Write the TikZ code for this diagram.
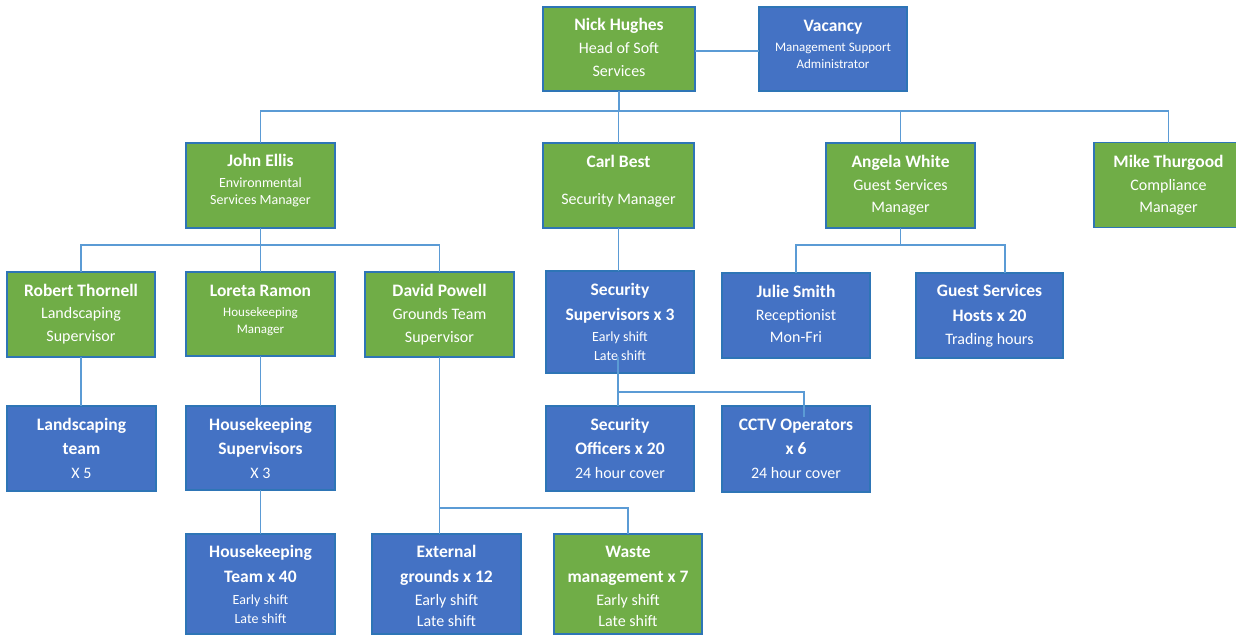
\documentclass[tikz,border=0pt]{standalone}
\usepackage{fontspec}
\setmainfont{Carlito}
\definecolor{gfill}{HTML}{70AD47}
\definecolor{bfill}{HTML}{4472C4}
\definecolor{bord}{HTML}{2E75B6}
\definecolor{lc}{HTML}{5B9BD5}
\newcommand\nmf{\fontsize{17.5}{20}\selectfont\bfseries}
\newcommand\rlf{\fontsize{16}{20}\selectfont}
\newcommand\rsf{\fontsize{14}{20}\selectfont}
\newcommand\smf{\fontsize{13}{20}\selectfont}
\tikzset{
  box/.style={draw=bord, line width=1.2pt, text=white, align=center, inner sep=0pt, outer sep=0pt,
    minimum width=149pt, minimum height=85pt, font=\fontsize{16}{20}\selectfont},
  gbox/.style={box, fill=gfill},
  bbox/.style={box, fill=bfill},
  conn/.style={draw=lc, line width=1.4pt}
}
\begin{document}
\begin{tikzpicture}[x=1pt,y=-1pt]
\useasboundingbox (0,0) rectangle (1236,635);
\fill[white] (0,0) rectangle (1236,635);
% bus coordinates
\coordinate (b1) at (0,111);
\coordinate (b2) at (0,245);
\coordinate (b3) at (0,392);
\coordinate (b4) at (0,508);
\coordinate (hv) at (0,51);
\coordinate (hd) at (1005,0);
\coordinate (ss) at (618,357);
\coordinate (cc) at (804,417);
% level 1
\node[gbox, minimum width=152pt, minimum height=84pt] (nick) at (619,49) {{\nmf Nick Hughes}\\[3pt]{\rlf Head of Soft}\\[3pt]{\rlf Services}\\[-16pt]{}};
\node[bbox, minimum width=148pt, minimum height=84pt] (vac) at (833,49) {{\nmf Vacancy}\\[0pt]{\smf Management Support}\\[-3pt]{\smf Administrator}\\[-10pt]{}};
% level 2
\node[gbox] (john) at (260.5,185.5) {{\nmf John Ellis}\\[1pt]{\rsf Environmental}\\[-3pt]{\rsf Services Manager}\\[-8pt]{}};
\node[gbox, minimum width=151pt] (carl) at (618.5,185.5) {{\nmf Carl Best}\\[17pt]{\rlf Security Manager}\\[-9pt]{}};
\node[gbox] (angela) at (900.5,185.5) {{\nmf Angela White}\\[3pt]{\rlf Guest Services}\\[2pt]{\rlf Manager}};
\node[gbox] (mike) at (1168.5,185) {{\nmf Mike Thurgood}\\[3pt]{\rlf Compliance}\\[2pt]{\rlf Manager}};
% level 3
\node[gbox, minimum width=148pt] (robert) at (81,314.5) {{\nmf Robert Thornell}\\[2pt]{\rlf Landscaping}\\[3pt]{\rlf Supervisor}};
\node[gbox, minimum height=84pt] (loreta) at (260.5,314) {{\nmf Loreta Ramon}\\[0pt]{\smf Housekeeping}\\[-3pt]{\smf Manager}\\[-10.5pt]{}};
\node[gbox] (david) at (439.5,314.5) {{\nmf David Powell}\\[3pt]{\rlf Grounds Team}\\[3pt]{\rlf Supervisor}};
\node[bbox, minimum width=148pt, minimum height=102pt] (secsup) at (620,322) {{\nmf Security}\\[5pt]{\nmf Supervisors x 3}\\[1pt]{\rsf Early shift}\\[-1pt]{\rsf Late shift}};
\node[bbox, minimum width=148pt] (julie) at (796,315.5) {{\nmf Julie Smith}\\[3pt]{\rlf Receptionist}\\[2pt]{\rlf Mon-Fri}\\[-16pt]{}};
\node[bbox, minimum width=147pt] (hosts) at (989.5,315.5) {{\nmf Guest Services}\\[5pt]{\nmf Hosts x 20}\\[3pt]{\rlf Trading hours}};
% level 4
\node[bbox] (land) at (81.5,448.5) {{\nmf Landscaping}\\[4pt]{\nmf team}\\[4pt]{\rlf X 5}};
\node[bbox, minimum height=84pt] (hksup) at (260.5,448) {{\nmf Housekeeping}\\[4pt]{\nmf Supervisors}\\[4pt]{\rlf X 3}};
\node[bbox, minimum width=148pt] (secoff) at (620,448.5) {{\nmf Security}\\[4pt]{\nmf Officers x 20}\\[4pt]{\rlf 24 hour cover}};
\node[bbox, minimum width=148pt, minimum height=86pt] (cctv) at (796,449) {{\nmf CCTV Operators}\\[4pt]{\nmf x 6}\\[4pt]{\rlf 24 hour cover}};
% level 5
\node[bbox, minimum height=100pt] (hkteam) at (260.5,584) {{\nmf Housekeeping}\\[5pt]{\nmf Team x 40}\\[2pt]{\rsf Early shift}\\[-1pt]{\rsf Late shift}};
\node[bbox, minimum height=100pt] (ext) at (446.5,584) {{}\\[-4pt]{\nmf External}\\[5pt]{\nmf grounds x 12}\\[3pt]{\rlf Early shift}\\[1pt]{\rlf Late shift}};
\node[gbox, minimum width=148pt, minimum height=100pt] (waste) at (628,584) {{}\\[-4pt]{\nmf Waste}\\[5pt]{\nmf management x 7}\\[3pt]{\rlf Early shift}\\[1pt]{\rlf Late shift}};
% connectors
\draw[conn] (nick.east |- hv) -- (vac.west |- hv);
\draw[conn] (nick.south) -- (nick.south |- b1);
\draw[conn] (john.north) -- (john.north |- b1) -- (mike.north |- b1) -- (mike.north);
\draw[conn] (carl.north) -- (carl.north |- b1);
\draw[conn] (angela.north) -- (angela.north |- b1);
\draw[conn] (john.south) -- (john.south |- b2);
\draw[conn] (robert.north) -- (robert.north |- b2) -- (david.north |- b2) -- (david.north);
\draw[conn] (loreta.north) -- (loreta.north |- b2);
\draw[conn] (carl.south) -- (carl.south |- secsup.north);
\draw[conn] (angela.south) -- (angela.south |- b2);
\draw[conn] (julie.north) -- (julie.north |- b2) -- (hd |- b2) -- (hd |- hosts.north);
\draw[conn] (ss) -- (ss |- b3) -- (cc |- b3) -- (cc);
\draw[conn] (ss |- b3) -- (ss |- secoff.north);
\draw[conn] (robert.south) -- (robert.south |- land.north);
\draw[conn] (loreta.south) -- (loreta.south |- hksup.north);
\draw[conn] (hksup.south) -- (hksup.south |- hkteam.north);
\draw[conn] (david.south) -- (david.south |- b4) -- (waste.north |- b4) -- (waste.north);
\draw[conn] (david.south |- b4) -- (david.south |- ext.north);
\end{tikzpicture}
\end{document}
